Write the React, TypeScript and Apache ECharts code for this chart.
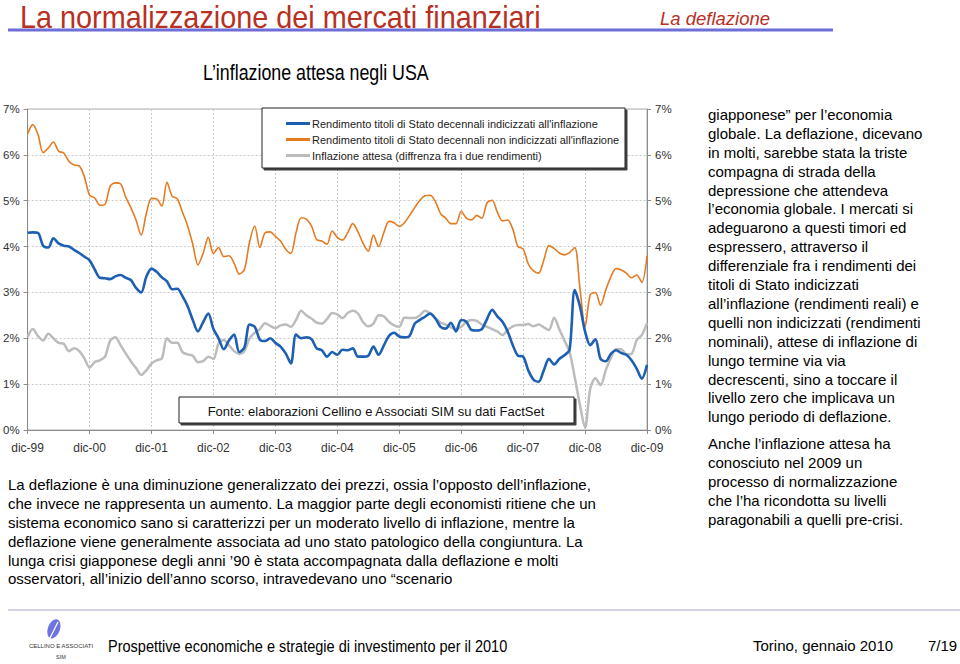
import React, { useEffect, useRef } from "react";
import * as echarts from "echarts";

const monthNames = ["gen", "feb", "mar", "apr", "mag", "giu", "lug", "ago", "set", "ott", "nov", "dic"];
const yearLabels = ["99", "00", "01", "02", "03", "04", "05", "06", "07", "08", "09"];

// monthly observations, dic-99 .. dic-09
const realYield = [
  4.3, 4.31, 4.3, 4.02, 3.98, 4.18, 4.07, 4.02, 4.0, 3.93, 3.86, 3.78,
  3.7, 3.5, 3.32, 3.31, 3.29, 3.35, 3.38, 3.32, 3.27, 3.1, 3.0, 3.34,
  3.52, 3.45, 3.33, 3.24, 3.07, 3.08, 2.92, 2.7, 2.4, 2.15, 2.35, 2.54,
  2.2, 2.0, 1.76, 1.95, 2.08, 1.7, 1.8, 2.3, 2.25, 1.97, 1.94, 2.0,
  1.9, 1.82, 1.67, 1.45, 2.08, 2.0, 2.02, 1.98, 1.78, 1.74, 1.6, 1.7,
  1.64, 1.75, 1.74, 1.78, 1.6, 1.6, 1.62, 1.82, 1.64, 1.84, 2.05, 2.12,
  2.04, 2.02, 2.05, 2.32, 2.4, 2.47, 2.54, 2.43, 2.25, 2.21, 2.34, 2.15,
  2.4, 2.36, 2.18, 2.17, 2.2, 2.42, 2.62, 2.48, 2.36, 2.15, 1.85, 1.62,
  1.6, 1.3, 1.1, 1.05, 1.3, 1.55, 1.43, 1.55, 1.63, 1.75, 3.05, 2.7,
  2.15, 1.85, 1.98, 1.55, 1.5, 1.66, 1.74, 1.68, 1.64, 1.52, 1.34, 1.12,
  1.42,
];

const nominalYield = [
  6.46, 6.66, 6.45, 6.05, 6.15, 6.28, 6.08, 6.04, 5.86, 5.78, 5.76, 5.52,
  5.12, 5.06, 4.9, 4.92, 5.32, 5.39, 5.37, 5.08, 4.85, 4.58, 4.25, 4.72,
  5.05, 5.04, 4.88, 5.4, 5.1, 5.04, 4.75, 4.45, 4.05, 3.6, 3.85, 4.2,
  3.85, 3.98, 3.78, 3.8, 3.64, 3.4, 3.5, 4.1, 4.45, 3.98, 4.3, 4.32,
  4.22, 4.12, 3.94, 3.85, 4.3, 4.63, 4.6, 4.45, 4.15, 4.12, 4.05, 4.34,
  4.2, 4.14, 4.3, 4.5, 4.32, 4.07, 3.9, 4.25, 4.0, 4.3, 4.55, 4.52,
  4.44, 4.52, 4.68, 4.85, 5.01, 5.11, 5.12, 4.98, 4.72, 4.62, 4.5, 4.5,
  4.77, 4.62, 4.58, 4.68, 4.62, 4.95, 5.01, 4.75, 4.56, 4.58, 4.38, 4.0,
  3.95, 3.62, 3.47, 3.42, 3.7, 4.02, 3.96, 3.86, 3.82, 3.87, 3.98, 3.1,
  2.25, 2.95, 3.0, 2.72, 3.05, 3.34, 3.52, 3.49, 3.42, 3.32, 3.38, 3.22,
  3.8,
];

const expectedInflation = [
  2.03, 2.2, 2.05, 1.95, 2.1, 2.0, 1.9, 1.88, 1.72, 1.78, 1.72, 1.56,
  1.36, 1.48, 1.52, 1.6, 1.95, 2.02, 1.85, 1.67, 1.5, 1.35, 1.2, 1.3,
  1.45, 1.52, 1.56, 2.0, 1.9, 1.9, 1.7, 1.65, 1.62, 1.48, 1.5, 1.6,
  1.55, 1.89, 1.96, 1.85, 1.72, 1.66, 1.72, 2.0, 2.12, 2.2, 2.33, 2.27,
  2.22, 2.28, 2.3, 2.25, 2.4, 2.6, 2.5, 2.43, 2.34, 2.32, 2.42, 2.55,
  2.52, 2.44, 2.55, 2.6, 2.54, 2.35, 2.26, 2.32, 2.5, 2.48, 2.36, 2.28,
  2.25, 2.45, 2.44, 2.44, 2.5, 2.6, 2.54, 2.44, 2.34, 2.3, 2.24, 2.2,
  2.25, 2.36, 2.4, 2.38, 2.3, 2.25, 2.2, 2.15, 2.07, 2.18, 2.26, 2.29,
  2.29, 2.31, 2.26, 2.3, 2.24, 2.18, 2.45, 2.2, 1.95, 1.7, 1.15, 0.55,
  0.05, 0.9, 1.13, 0.98, 1.3, 1.57, 1.76, 1.76, 1.65, 1.66, 1.96, 2.07,
  2.33,
];

const seriesNames = [
  "Rendimento titoli di Stato decennali indicizzati all'inflazione",
  "Rendimento titoli di Stato decennali non indicizzati all'inflazione",
  "Inflazione attesa (diffrenza fra i due rendimenti)",
];

const months: string[] = [];
months.push("dic-" + yearLabels[0]);
for (let y = 1; y < yearLabels.length; y++) {
  for (let m = 0; m < 12; m++) months.push(monthNames[m] + "-" + yearLabels[y]);
}

const titleText = "La normalizzazione dei mercati finanziari";
const sectionText = "La deflazione";
const chartTitle = "L\u2019inflazione attesa negli USA";
const sourceText = "Fonte: elaborazioni Cellino e Associati SIM su dati FactSet";
const bodyLines = [
  "La deflazione \u00e8 una diminuzione generalizzato dei prezzi, ossia l\u2019opposto dell\u2019inflazione,",
  "che invece ne rappresenta un aumento. La maggior parte degli economisti ritiene che un",
  "sistema economico sano si caratterizzi per un moderato livello di inflazione, mentre la",
  "deflazione viene generalmente associata ad uno stato patologico della congiuntura. La",
  "lunga crisi giapponese degli anni \u201990 \u00e8 stata accompagnata dalla deflazione e molti",
  "osservatori, all\u2019inizio dell\u2019anno scorso, intravedevano uno \u201cscenario",
];
const sideLines1 = [
  "giapponese\u201d per l\u2019economia",
  "globale. La deflazione, dicevano",
  "in molti, sarebbe stata la triste",
  "compagna di strada della",
  "depressione che attendeva",
  "l\u2019economia globale. I mercati si",
  "adeguarono a questi timori ed",
  "espressero, attraverso il",
  "differenziale fra i rendimenti dei",
  "titoli di Stato indicizzati",
  "all\u2019inflazione (rendimenti reali) e",
  "quelli non indicizzati (rendimenti",
  "nominali), attese di inflazione di",
  "lungo termine via via",
  "decrescenti, sino a toccare il",
  "livello zero che implicava un",
  "lungo periodo di deflazione.",
];
const sideLines2 = [
  "Anche l\u2019inflazione attesa ha",
  "conosciuto nel 2009 un",
  "processo di normalizzazione",
  "che l\u2019ha ricondotta su livelli",
  "paragonabili a quelli pre-crisi.",
];
const footerText = "Prospettive economiche e strategie di investimento per il 2010";
const footerPlace = "Torino, gennaio 2010";
const footerPage = "7/19";

const SANS = "'Liberation Sans', Arial, sans-serif";
const RED = "#B8301F";

export default function App() {
  const ref = useRef<HTMLDivElement>(null);
  useEffect(() => {
    if (!ref.current) return;
    const chart = echarts.init(ref.current, undefined, { renderer: "svg" });
    const yearTick = (i: number) => i % 12 === 0;
    const yAxisBase = {
      type: "value",
      min: 0,
      max: 7,
      interval: 1,
      axisLine: { show: true, lineStyle: { color: "#8c8c8c", width: 1 } },
      axisTick: { show: true, length: 4, lineStyle: { color: "#8c8c8c" } },
      axisLabel: { formatter: "{value}%", color: "#333", fontFamily: SANS, fontSize: 11.5, margin: 8 },
    };
    chart.setOption({
      animation: false,
      backgroundColor: "#ffffff",
      grid: {
        left: 27,
        top: 109,
        width: 620,
        height: 321,
        show: true,
        borderColor: "#b0b0b0",
        borderWidth: 1,
      },
      legend: {
        show: true,
        orient: "vertical",
        left: 281,
        top: 113,
        itemGap: 5,
        itemWidth: 24,
        itemHeight: 3,
        icon: "rect",
        z: 6,
        data: seriesNames,
        textStyle: { fontFamily: SANS, fontSize: 11, color: "#222", padding: [0, 0, 0, -3] },
      },
      xAxis: {
        type: "category",
        data: months,
        boundaryGap: false,
        axisLine: { lineStyle: { color: "#8c8c8c" } },
        axisTick: { interval: (i: number) => yearTick(i), length: 4, lineStyle: { color: "#8c8c8c" } },
        axisLabel: {
          interval: (i: number) => yearTick(i),
          color: "#333",
          fontFamily: SANS,
          fontSize: 12,
          margin: 12,
        },
        splitLine: {
          show: true,
          interval: (i: number) => yearTick(i),
          lineStyle: { type: [2, 2], color: "#c8c8c8" },
        },
      },
      yAxis: [
        { ...yAxisBase, position: "left", splitLine: { show: true, lineStyle: { type: [2, 2], color: "#c8c8c8" } } },
        { ...yAxisBase, position: "right", splitLine: { show: false } },
      ],
      series: [
        {
          name: seriesNames[2],
          type: "line",
          data: expectedInflation,
          showSymbol: false,
          smooth: 0.3,
          lineStyle: { color: "#bcbcbc", width: 2.5 },
          itemStyle: { color: "#bcbcbc" },
          z: 2,
        },
        {
          name: seriesNames[1],
          type: "line",
          data: nominalYield,
          showSymbol: false,
          smooth: 0.3,
          lineStyle: { color: "#E57A20", width: 1.6 },
          itemStyle: { color: "#E57A20" },
          z: 3,
        },
        {
          name: seriesNames[0],
          type: "line",
          data: realYield,
          showSymbol: false,
          smooth: 0.3,
          lineStyle: { color: "#1D5FB3", width: 2.6 },
          itemStyle: { color: "#1D5FB3" },
          z: 4,
        },
      ],
      graphic: [
        // header
        { type: "text", x: 20, y: 2, scaleX: 0.93, z: 10, style: { text: titleText, fontFamily: SANS, fontSize: 31, fill: RED } },
        { type: "text", x: 660, y: 9, z: 10, style: { text: sectionText, fontFamily: SANS, fontStyle: "italic", fontSize: 18.5, fill: RED } },
        { type: "line", z: 10, shape: { x1: 8, y1: 30, x2: 833, y2: 30 }, style: { stroke: "#6E6ED8", lineWidth: 3 } },
        { type: "text", x: 203, y: 61, scaleX: 0.81, z: 10, style: { text: chartTitle, fontFamily: SANS, fontSize: 22, fill: "#000" } },
        // legend box
        {
          type: "rect",
          z: 5,
          shape: { x: 262, y: 108, width: 363, height: 60 },
          style: { fill: "#fff", stroke: "#222", lineWidth: 1, shadowColor: "rgba(0,0,0,0.75)", shadowOffsetX: 2, shadowOffsetY: 2, shadowBlur: 0 },
        },
        // source box
        {
          type: "rect",
          z: 5,
          shape: { x: 179, y: 397, width: 395, height: 26 },
          style: { fill: "#fff", stroke: "#222", lineWidth: 1, shadowColor: "rgba(0,0,0,0.75)", shadowOffsetX: 2, shadowOffsetY: 2, shadowBlur: 0 },
        },
        { type: "text", z: 6, x: 376, y: 411, style: { text: sourceText, fontFamily: SANS, fontSize: 13, fill: "#111", align: "center", verticalAlign: "middle" } },
        // body text
        {
          type: "text", z: 10, left: 8, top: 475,
          style: { text: bodyLines.join("\n"), fontFamily: SANS, fontSize: 15, lineHeight: 18.9, fill: "#000" },
        },
        {
          type: "text", z: 10, left: 708, top: 105,
          style: { text: sideLines1.join("\n"), fontFamily: SANS, fontSize: 15, lineHeight: 18.9, fill: "#000" },
        },
        {
          type: "text", z: 10, left: 708, top: 434,
          style: { text: sideLines2.join("\n"), fontFamily: SANS, fontSize: 15, lineHeight: 18.9, fill: "#000" },
        },
        // footer
        { type: "line", z: 10, shape: { x1: 8, y1: 610, x2: 960, y2: 610 }, style: { stroke: "#C4C4DC", lineWidth: 1.5 } },
        { type: "ellipse", z: 10, shape: { cx: 54, cy: 629, rx: 6, ry: 10 }, rotation: -0.35, originX: 54, originY: 629, style: { fill: "#6C74E0" } },
        { type: "line", z: 11, shape: { x1: 50, y1: 638, x2: 58, y2: 622 }, style: { stroke: "#fff", lineWidth: 1.2 } },
        { type: "text", z: 10, x: 61, y: 646, style: { text: "CELLINO E ASSOCIATI", fontFamily: SANS, fontSize: 6, fill: "#333", align: "center", verticalAlign: "middle" } },
        { type: "text", z: 10, x: 61, y: 657, style: { text: "SIM", fontFamily: SANS, fontSize: 5.5, fill: "#333", align: "center", verticalAlign: "middle" } },
        { type: "text", z: 10, x: 108, y: 638, scaleX: 0.88, style: { text: footerText, fontFamily: SANS, fontSize: 16.5, fill: "#000" } },
        { type: "text", z: 10, left: 753, top: 638, style: { text: footerPlace, fontFamily: SANS, fontSize: 15, fill: "#000" } },
        { type: "text", z: 10, left: 928, top: 638, style: { text: footerPage, fontFamily: SANS, fontSize: 15, fill: "#000" } },
      ],
    });
    return () => chart.dispose();
  }, []);
  return (
    <div
      ref={ref}
      style={{ position: "absolute", left: 0, top: 0, width: 960, height: 664, background: "#fff" }}
    />
  );
}
